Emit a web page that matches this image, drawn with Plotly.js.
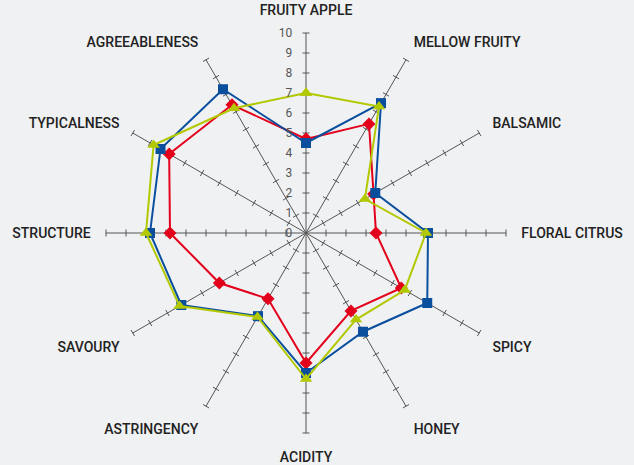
<!DOCTYPE html>
<html>
<head>
<meta charset="utf-8">
<script src="https://cdn.plot.ly/plotly-3.0.1.min.js"></script>
<style>
html,body{margin:0;padding:0;background:#f0f1f3;}
#chart{width:634px;height:465px;}
</style>
</head>
<body>
<div id="chart"></div>
<script>
const categories = ["FRUITY APPLE","MELLOW FRUITY","BALSAMIC","FLORAL CITRUS","SPICY","HONEY","ACIDITY","ASTRINGENCY","SAVOURY","STRUCTURE","TYPICALNESS","AGREEABLENESS"];
const blueValues  = [4.5, 7.5, 4.0, 6.1, 7.0, 5.7, 7.0, 4.8, 7.2, 7.8, 8.4, 8.3];
const redValues   = [4.7, 6.3, 3.9, 3.5, 5.5, 4.5, 6.5, 3.8, 5.0, 6.8, 7.9, 7.4];
const greenValues = [7.0, 7.3, 3.4, 6.0, 5.7, 5.0, 7.3, 4.85, 7.3, 8.0, 8.8, 7.2];
const tickValues = [0,1,2,3,4,5,6,7,8,9,10];
const tickLabels = ["0","1","2","3","4","5","6","7","8","9","10"];

const FONT = "Roboto,'Liberation Sans',sans-serif";

function closed(a){ return a.concat([a[0]]); }

// small cross ticks on every spoke, derived from categories and tick values
const tkTheta = [], tkR = [], tkAngle = [];
const step = 360 / categories.length;
categories.forEach((c, i) => {
  tickValues.slice(1).forEach(v => {
    tkTheta.push(c); tkR.push(v); tkAngle.push(i * step);
  });
});

const traces = [
  {
    type: "scatterpolar", r: tkR, theta: tkTheta, mode: "markers",
    marker: {symbol: "line-ew-open", size: 5, angle: tkAngle, color: "#555", line: {color: "#555", width: 1}},
    hoverinfo: "skip", showlegend: false
  },
  {
    type: "scatterpolar", r: closed(redValues), theta: closed(categories), mode: "lines+markers",
    line: {color: "#e2001a", width: 2},
    marker: {symbol: "diamond", size: 10, color: "#e2001a"},
    showlegend: false
  },
  {
    type: "scatterpolar", r: closed(blueValues), theta: closed(categories), mode: "lines+markers",
    line: {color: "#0a4f9e", width: 2},
    marker: {symbol: "square", size: 10, color: "#0a4f9e"},
    showlegend: false
  },
  {
    type: "scatterpolar", r: closed(greenValues), theta: closed(categories), mode: "lines+markers",
    line: {color: "#b2c800", width: 2},
    marker: {symbol: "triangle-up", size: 11, color: "#b2c800"},
    showlegend: false
  }
];

const layout = {
  width: 634, height: 465,
  margin: {l: 0, r: 0, t: 0, b: 0},
  paper_bgcolor: "#f0f1f3",
  plot_bgcolor: "#f0f1f3",
  font: {family: FONT, color: "#222"},
  polar: {
    domain: {x: [106/634, 506/634], y: [32/465, 432/465]},
    bgcolor: "rgba(0,0,0,0)",
    radialaxis: {
      range: [0, 10], angle: 90, side: "counterclockwise",
      tickvals: tickValues, ticktext: tickLabels, tickangle: 90,
      showline: false, showgrid: false,
      ticks: "outside", ticklen: 9, tickcolor: "rgba(0,0,0,0)",
      tickfont: {family: FONT, size: 12, color: "#555"}
    },
    angularaxis: {
      type: "category", categoryorder: "array", categoryarray: categories,
      rotation: 90, direction: "clockwise",
      showline: false, showgrid: true, gridcolor: "#555", gridwidth: 1,
      ticks: "outside", ticklen: 12, tickcolor: "rgba(0,0,0,0)",
      tickfont: {family: FONT, size: 14, color: "#222", weight: 500}
    }
  }
};

Plotly.newPlot("chart", traces, layout, {displayModeBar: false, staticPlot: true});
</script>
</body>
</html>
